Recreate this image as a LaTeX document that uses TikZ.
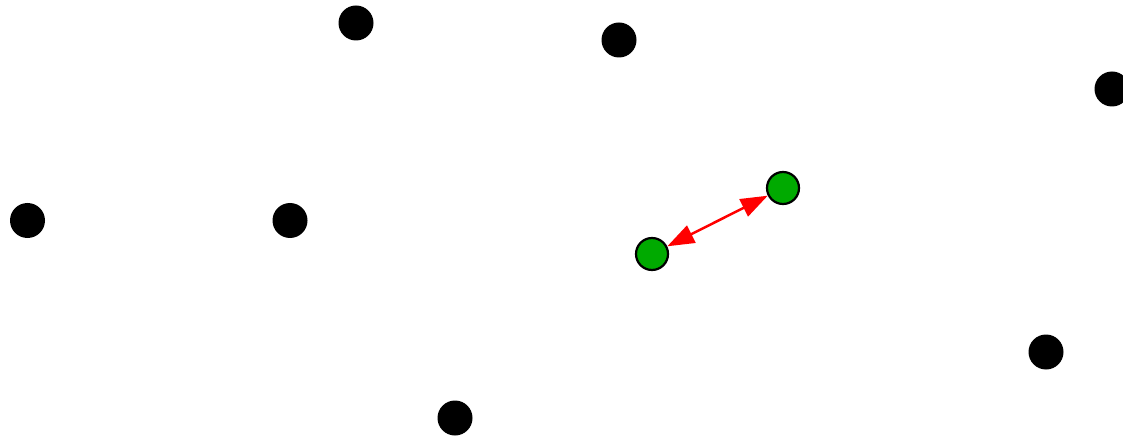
\documentclass[tikz,border=0pt]{standalone}
\usetikzlibrary{arrows.meta}
\begin{document}
\begin{tikzpicture}[x=1pt,y=-1pt,
  blackdot/.style={circle,fill=black,draw=none,minimum size=35pt,inner sep=0pt},
  greendot/.style={circle,fill={rgb,255:red,0;green,170;blue,0},draw=black,line width=2.2pt,minimum size=32pt,inner sep=0pt},
  link/.style={draw=red,line width=2.5pt,{Triangle[length=27pt,width=19pt]}-{Triangle[length=27pt,width=19pt]}}]
\useasboundingbox (0,0) rectangle (1123,438);
\node[blackdot] (d1) at (356,23) {};
\node[blackdot] (d2) at (619,40) {};
\node[blackdot] (d3) at (1112,89) {};
\node[blackdot] (d4) at (27.5,220.5) {};
\node[blackdot] (d5) at (290,220.5) {};
\node[blackdot] (d6) at (1046,352) {};
\node[blackdot] (d7) at (455,418) {};
\node[greendot] (g1) at (652,254) {};
\node[greendot] (g2) at (783,188) {};
\draw[link] (g1) -- (g2);
\end{tikzpicture}
\end{document}
